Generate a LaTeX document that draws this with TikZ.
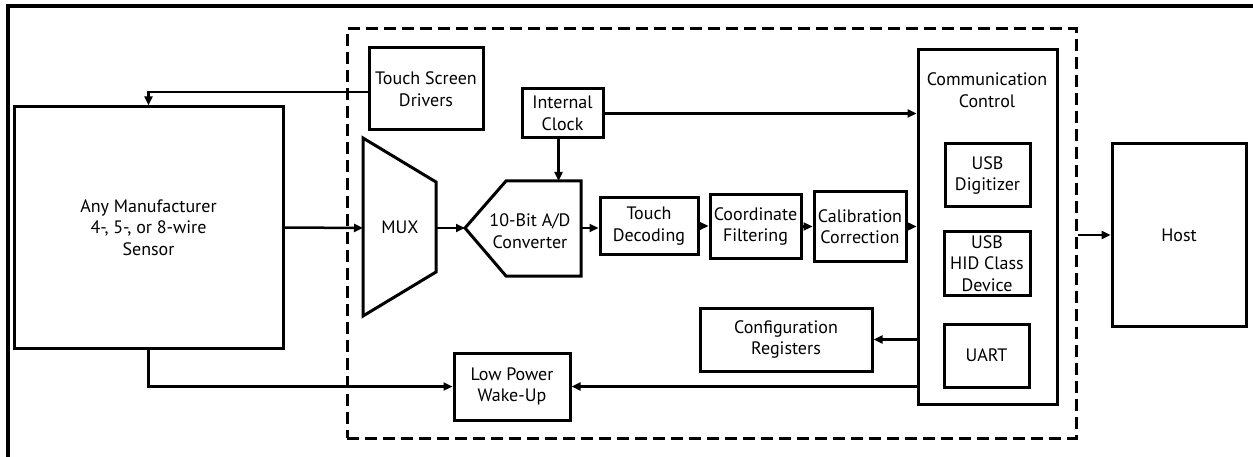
\documentclass[tikz,border=0pt]{standalone}
\usepackage{fontspec}
\setmainfont{PT Sans}
\usetikzlibrary{arrows.meta,calc}
\begin{document}
\begin{tikzpicture}[x=1pt,y=-1pt,
  box/.style={draw,line width=3pt,inner sep=0pt,align=center,font=\fontsize{18}{21.5}\selectfont},
  lbl/.style={inner sep=0pt,align=center,font=\fontsize{18}{21.5}\selectfont},
  arr/.style={line width=2.5pt,-{Triangle[length=9pt,width=8pt]}},
  shapeline/.style={line width=3pt,line join=miter}]
\useasboundingbox (0,0) rectangle (1253,457);
\begin{scope}
  \clip (0,0) rectangle (1253,457);
  \draw[line width=3.5pt] (8,6) rectangle (1275,475);
\end{scope}
% chip boundary
\node[draw,line width=3pt,dash pattern=on 12pt off 6pt,minimum width=729pt,minimum height=409pt,inner sep=0pt] (chip) at (711.5,233.5) {};
% boxes
\node[box,minimum width=269pt,minimum height=241pt] (sensor) at (148.5,227.5) {Any Manufacturer\\4-, 5-, or 8-wire\\Sensor};
\node[box,minimum width=114pt,minimum height=82pt] (tsd) at (426,89) {Touch Screen\\Drivers};
\node[box,minimum width=81pt,minimum height=49pt] (clock) at (562.5,113.5) {Internal\\Clock};
\node[box,minimum width=98pt,minimum height=56pt] (td) at (649,226) {Touch\\Decoding};
\node[box,minimum width=91pt,minimum height=63pt] (cf) at (755.5,226.5) {Coordinate\\Filtering};
\node[box,minimum width=92pt,minimum height=69pt] (cc) at (860,226.5) {Calibration\\Correction};
\node[box,minimum width=139pt,minimum height=354pt] (comm) at (987.5,227) {};
\node[lbl] (commt) at (987,90) {Communication\\Control};
\node[box,minimum width=85pt,minimum height=63pt] (usbd) at (987.5,175.5) {USB\\Digitizer};
\node[box,minimum width=86pt,minimum height=63pt] (hid) at (987,263.5) {USB\\HID Class\\Device};
\node[box,minimum width=85pt,minimum height=63pt] (uart) at (986.5,355.5) {UART};
\node[box,minimum width=134pt,minimum height=182pt] (host) at (1179,235) {Host};
\node[box,minimum width=172pt,minimum height=63pt] (config) at (786,339.5) {Configuration\\Registers};
\node[box,minimum width=116pt,minimum height=67pt] (lowp) at (512,386.5) {Low Power\\Wake-Up};
% MUX
\coordinate (m1) at (363,138);
\coordinate (m2) at (436,182);
\coordinate (m3) at (436,272);
\coordinate (m4) at (363,316);
\draw[shapeline] (m1) -- (m2) -- (m3) -- (m4) -- cycle;
\node[lbl] (mux) at (400,227) {MUX};
\coordinate (muxin) at (363,228);
\coordinate (muxout) at (436,228);
% ADC
\coordinate (a0) at (465,228);
\coordinate (a1) at (506,181);
\coordinate (a2) at (581,181);
\coordinate (a3) at (581,276);
\coordinate (a4) at (506,276);
\draw[shapeline] (a0) -- (a1) -- (a2) -- (a3) -- (a4) -- cycle;
\node[lbl] (adc) at (530,231) {10-Bit A/D\\Converter};
\coordinate (adcout) at (581,228);
\coordinate (adctop) at (558.5,181);
% connectors
\draw[arr] ([yshift=-3pt]tsd.west) -| (sensor.north);
\draw[arr] (sensor.east) -- (muxin);
\draw[arr] (muxout) -- (a0);
\draw[arr] ([xshift=-4pt]clock.south) -- (adctop);
\draw[arr] (adcout) -- (adcout -| td.west);
\draw[arr] (td.east) -- (td.east -| cf.west);
\draw[arr] (cf.east) -- (cf.east -| cc.west);
\draw[arr] (cc.east) -- (cc.east -| comm.west);
\draw[arr] (clock.east) -- (clock.east -| comm.west);
\draw[arr] (comm.west |- config.east) -- (config.east);
\draw[arr] (comm.west |- lowp.east) -- (lowp.east);
\draw[arr] (sensor.south) |- (lowp.west);
\draw[arr] (chip.east |- host.west) -- (host.west);
\end{tikzpicture}
\end{document}
